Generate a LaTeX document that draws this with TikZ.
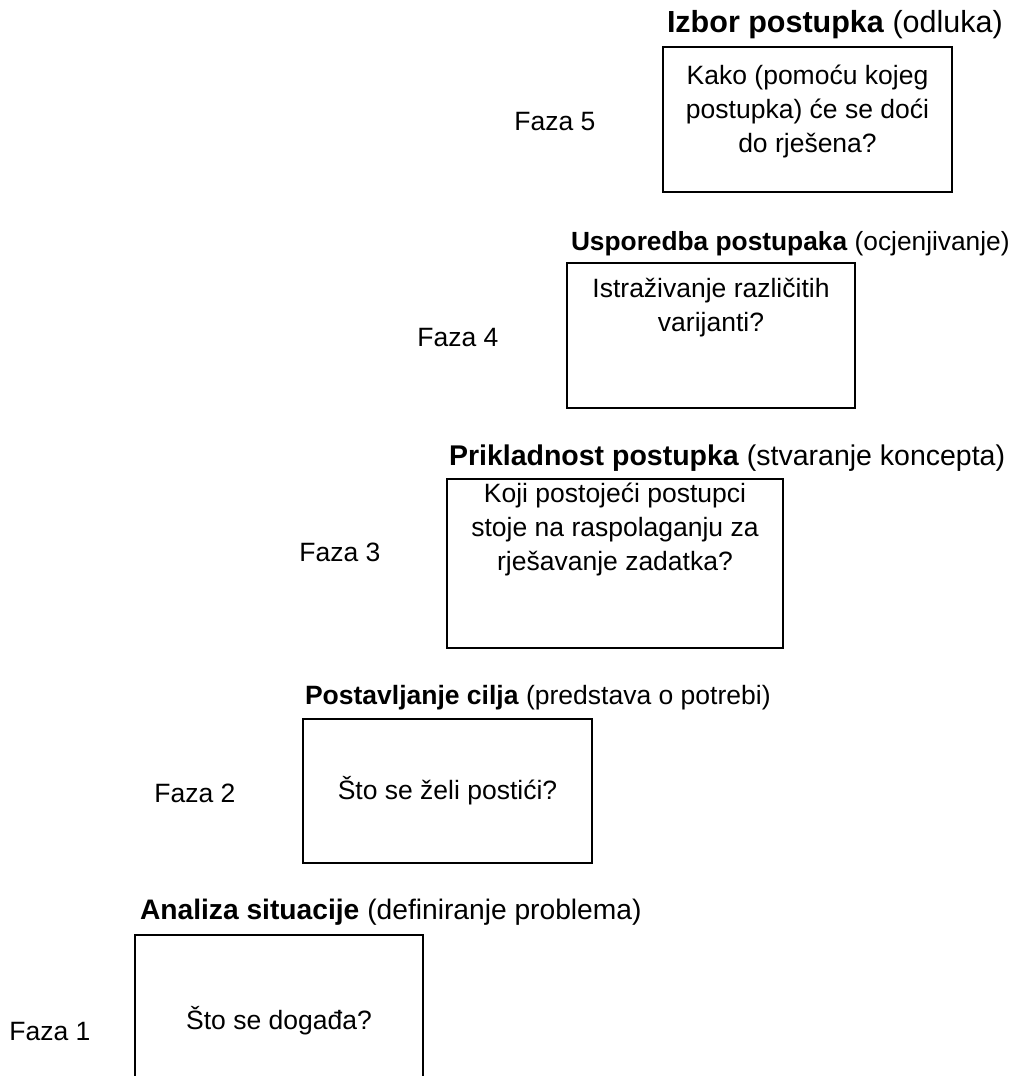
\documentclass[tikz,border=0pt]{standalone}
\usepackage{fontspec}
\setmainfont{Liberation Sans}
\begin{document}
\begin{tikzpicture}[x=1pt,y=-1pt,
  every node/.style={inner sep=0pt,outer sep=0pt},
  txt/.style={font=\fontsize{#1}{34}\selectfont},
  txt/.default=26.5,
  title/.style={txt=#1,anchor=base west},
  title/.default=26.5,
  phase/.style={txt,anchor=base},
  boxtext/.style={txt,anchor=base,align=center},
  stagebox/.style={draw,line width=1.8pt,anchor=north west},
  openbox/.style={anchor=north west}]
\useasboundingbox (0,0) rectangle (1011,1076);

% Phase 5 (a multi-line node's base is its last line)
\node[title=30.5] (h5) at (667,32) {\textbf{Izbor postupka} (odluka)};
\node[stagebox,minimum width=289pt,minimum height=145pt] (b5) at (663,47) {};
\node[boxtext] (t5) at ([yshift=-105pt]b5.north) {Kako (pomoću kojeg\\postupka) će se doći\\do rješena?};
\node[phase] (f5) at (555,130) {Faza 5};

% Phase 4
\node[title=26.3] (h4) at (571,250) {\textbf{Usporedba postupaka} (ocjenjivanje)};
\node[stagebox,minimum width=288pt,minimum height=145pt] (b4) at (567,263) {};
\node[boxtext] (t4) at ([yshift=-68pt]b4.north) {Istraživanje različitih\\varijanti?};
\node[phase] (f4) at (458,346) {Faza 4};

% Phase 3
\node[title=28.5] (h3) at (449,465) {\textbf{Prikladnost postupka} (stvaranje koncepta)};
\node[stagebox,minimum width=336pt,minimum height=169pt] (b3) at (447,479) {};
\node[boxtext] (t3) at ([yshift=-91pt]b3.north) {Koji postojeći postupci\\stoje na raspolaganju za\\rješavanje zadatka?};
\node[phase] (f3) at (340,561) {Faza 3};

% Phase 2
\node[title] (h2) at (305,704) {\textbf{Postavljanje cilja} (predstava o potrebi)};
\node[stagebox,minimum width=289pt,minimum height=144pt] (b2) at (303,719) {};
\node[boxtext] (t2) at ([yshift=-80pt]b2.north) {Što se želi postići?};
\node[phase] (f2) at (195,802) {Faza 2};

% Phase 1 (box runs off the lower edge)
\node[title=28.2] (h1) at (140,919) {\textbf{Analiza situacije} (definiranje problema)};
\node[openbox,minimum width=288pt,minimum height=150pt] (b1) at (135,935) {};
\draw[line width=1.8pt] (b1.south west) |- (b1.north east) -- (b1.south east);
\node[boxtext] (t1) at ([yshift=-94pt]b1.north) {Što se događa?};
\node[phase] (f1) at (50,1040) {Faza 1};
\end{tikzpicture}
\end{document}
